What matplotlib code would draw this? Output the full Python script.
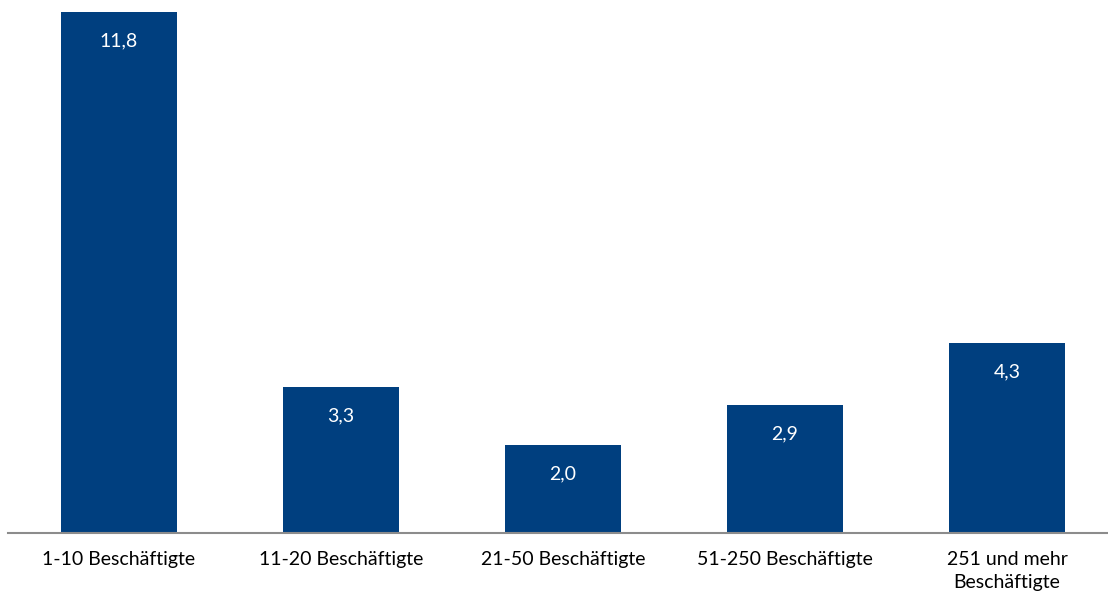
import numpy as np
import matplotlib.pyplot as plt

categories = ['1-10 Beschäftigte', '11-20 Beschäftigte', '21-50 Beschäftigte',
              '51-250 Beschäftigte', '251 und mehr\nBeschäftigte']
values = [11.8, 3.3, 2.0, 2.9, 4.3]
value_labels = ['11,8', '3,3', '2,0', '2,9', '4,3']

bar_color = '#003f7f'

plt.rcParams['font.family'] = ['Lato', 'DejaVu Sans']

W, H = 1108, 596
fig = plt.figure(figsize=(W / 100, H / 100), dpi=100)
# axes: left at x=8px, baseline at y=533px from top
ax = fig.add_axes([8 / W, (H - 533) / H, 1100 / W, 533 / H])

x = np.arange(len(values))
ax.bar(x, values, width=0.525, color=bar_color, zorder=2)

# 11.8 -> 521 px above baseline
px_per_unit = 521 / 11.8
ax.set_ylim(0, 533 / px_per_unit)
ax.set_xlim(-0.5, -0.5 + 1100 / 222)

for i in range(len(values)):
    ax.annotate(value_labels[i], (x[i], values[i]), xytext=(0, -29),
                textcoords='offset pixels', ha='center', va='center',
                color='white', fontsize=14)

ax.set_xticks(x)
ax.set_xticklabels(categories, fontsize=14, linespacing=1.45, va='top')
ax.tick_params(axis='x', length=0, pad=13)
ax.set_yticks([])

for s in ['top', 'right', 'left']:
    ax.spines[s].set_visible(False)
ax.spines['bottom'].set_color('#8c8c8c')
ax.spines['bottom'].set_linewidth(1.5)

fig.savefig('out.png', dpi=100)
